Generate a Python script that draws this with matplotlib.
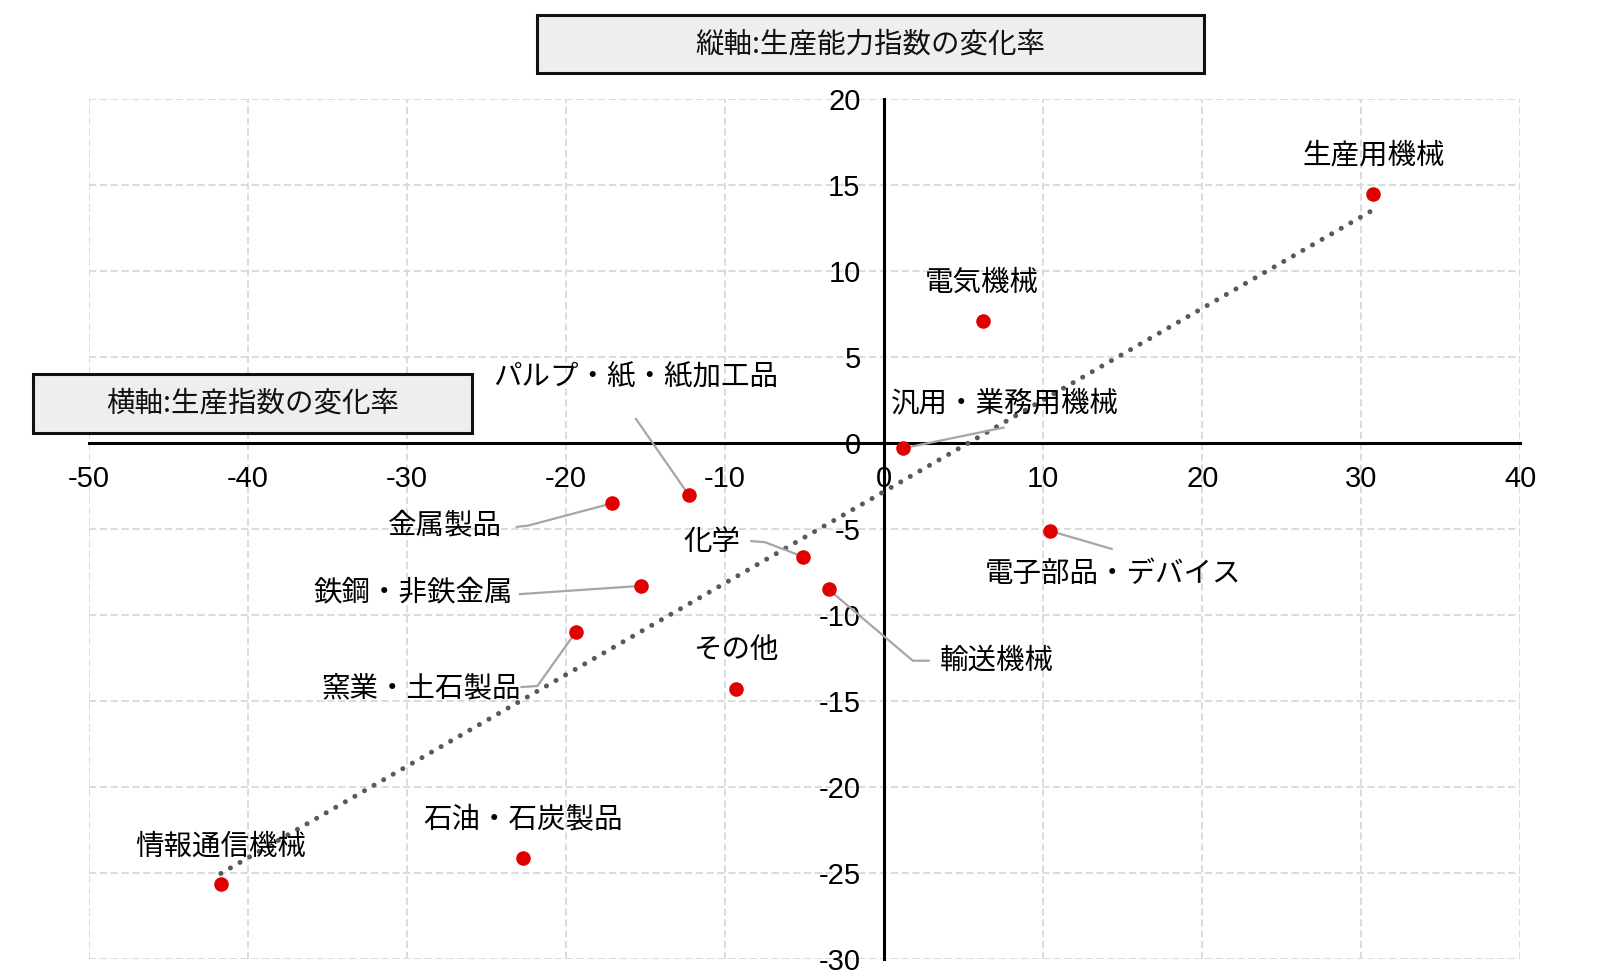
import numpy as np
import matplotlib
matplotlib.use("Agg")
import matplotlib.pyplot as plt
from matplotlib.patches import Rectangle

plt.rcParams['font.family'] = ['Noto Sans CJK JP', 'DejaVu Sans']

# ---- data ----
industries = ['生産用機械', '電気機械', '汎用・業務用機械', '電子部品・デバイス', '輸送機械',
              '化学', 'パルプ・紙・紙加工品', '金属製品', '鉄鋼・非鉄金属', '窯業・土石製品',
              'その他', '石油・石炭製品', '情報通信機械']
production_change = [30.7, 6.2, 1.2, 10.4, -3.5, -5.1, -12.3, -17.1, -15.3, -19.4, -9.3, -22.7, -41.7]
capacity_change = [14.5, 7.1, -0.3, -5.1, -8.5, -6.6, -3.0, -3.5, -8.3, -11.0, -14.3, -24.1, -25.6]

x_ticks = [-50, -40, -30, -20, -10, 0, 10, 20, 30, 40]
y_ticks = [-30, -25, -20, -15, -10, -5, 0, 5, 10, 15, 20]

# label positions (data coords) and leader-line paths (label side -> point)
label_pos = [(30.8, 16.7), (6.15, 9.3), (7.6, 2.3), (14.4, -7.6), (7.1, -12.65),
             (-10.8, -5.75), (-15.6, 3.8), (-27.6, -4.85), (-29.6, -8.7), (-29.1, -14.25),
             (-9.3, -12.05), (-22.7, -21.9), (-41.7, -23.45)]
leaders = {
    '汎用・業務用機械': [(7.5, 0.9)],
    '電子部品・デバイス': [(14.3, -6.15)],
    '輸送機械': [(2.8, -12.65), (1.8, -12.65)],
    '化学': [(-8.35, -5.7), (-7.5, -5.76)],
    'パルプ・紙・紙加工品': [(-15.6, 1.4)],
    '金属製品': [(-23.1, -4.87), (-22.4, -4.8)],
    '鉄鋼・非鉄金属': [(-22.9, -8.78)],
    '窯業・土石製品': [(-22.8, -14.18), (-21.8, -14.12)],
}

fig = plt.figure(figsize=(16, 9.8), dpi=100)
ax = fig.add_axes([0.0555, 0.0212, 0.8948, 0.8778])

for s in ['top', 'right']:
    ax.spines[s].set_visible(False)
ax.spines['left'].set_position(('data', 0))
ax.spines['bottom'].set_position(('data', 0))
ax.spines['left'].set_linewidth(2.2)
ax.spines['bottom'].set_linewidth(2.2)
ax.spines['left'].set_zorder(2)
ax.spines['bottom'].set_zorder(2)

ax.set_xlim(-50, 40)
ax.set_ylim(-30, 20)
ax.set_xticks(x_ticks)
ax.set_yticks(y_ticks)
ax.set_xticklabels([str(v) for v in x_ticks])
ax.set_yticklabels([str(v) for v in y_ticks])
ax.tick_params(axis='both', length=0, labelsize=21, labelfontfamily='Liberation Sans',
               labelcolor='#000000')
ax.tick_params(axis='x', pad=16)
ax.tick_params(axis='y', pad=17)

ax.grid(True, color='#d9d9d9', linestyle=(0, (4, 2)), linewidth=1.3, zorder=0)
ax.set_axisbelow(True)

# trendline (least squares)
xs = np.array(production_change)
ys = np.array(capacity_change)
slope, intercept = np.polyfit(xs, ys, 1)
xl = np.array([xs.min(), xs.max()])
ax.plot(xl, slope * xl + intercept, color='#595959', linewidth=3.6,
        linestyle=(0, (0.01, 2.2)), dash_capstyle='round', zorder=3)

# leader lines
for name, (px, py) in zip(industries, zip(production_change, capacity_change)):
    if name in leaders:
        pts = leaders[name] + [(px, py)]
        ax.plot([p[0] for p in pts], [p[1] for p in pts], color='#a6a6a6', linewidth=1.6, zorder=3)

ax.scatter(production_change, capacity_change, s=110, color='#e00000', zorder=5, linewidths=0)

for name, (lx, ly) in zip(industries, label_pos):
    ax.text(lx, ly, name, fontsize=20.5, ha='center', va='center', color='#000000', zorder=6)

# title boxes (figure pixel coords -> fraction)
W, H = 1600, 980
def box(x0, y0, x1, y1, text):
    fig.patches.append(Rectangle((x0 / W, 1 - y1 / H), (x1 - x0) / W, (y1 - y0) / H,
                                 transform=fig.transFigure, facecolor='#eeeeee',
                                 edgecolor='#111111', linewidth=2.2))
    fig.text((x0 + x1) / 2 / W, 1 - (y0 + y1) / 2 / H, text, fontsize=20.5,
             ha='center', va='center', color='#111111')

box(537, 15, 1204, 73, '縦軸:生産能力指数の変化率')
box(33, 374, 472, 433, '横軸:生産指数の変化率')

fig.savefig('out.png', dpi=100)
